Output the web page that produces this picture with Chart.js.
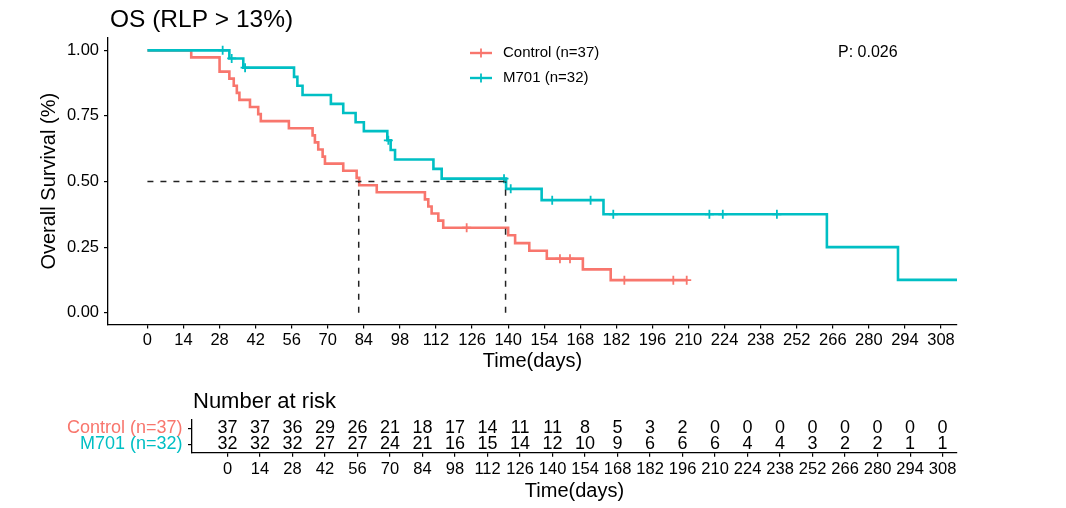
<!DOCTYPE html>
<html><head><meta charset="utf-8">
<script src="https://cdn.jsdelivr.net/npm/chart.js@4.4.1/dist/chart.umd.min.js"></script>
<style>
html,body{margin:0;padding:0;background:#fff;}
#wrap{position:relative;width:1066px;height:508px;overflow:hidden;background:#fff;}
canvas{position:absolute;left:0;}
#main{top:0;}
#risk{top:385px;}
</style></head><body>
<div id="wrap"><canvas id="main" width="1066" height="385"></canvas><canvas id="risk" width="1066" height="123"></canvas></div>
<script>
// ---------- data ----------
const chartTitle = 'OS (RLP > 13%)';
const riskTitle = 'Number at risk';
const xTitle = 'Time(days)';
const yTitle = 'Overall Survival (%)';
const groupNames = ['Control (n=37)', 'M701 (n=32)'];
const groupColors = ['#F8766D', '#00BFC4'];
const pValueLabel = 'P: 0.026';
const xTicks = [0,14,28,42,56,70,84,98,112,126,140,154,168,182,196,210,224,238,252,266,280,294,308];
const yTicks = [0, 0.25, 0.5, 0.75, 1];

const controlTime = [0,17,28,31.8,33.5,34.7,35.7,39.8,43,44,54.9,64.1,65,66.3,68,68.9,76,81.2,82.2,89,107.7,109,110.3,112.9,114.8,140,142.7,148.2,155,169,179.8,209.5];
const controlSurv = [1,0.973,0.919,0.892,0.865,0.838,0.811,0.784,0.757,0.730,0.703,0.676,0.649,0.622,0.595,0.568,0.541,0.514,0.486,0.459,0.432,0.405,0.378,0.351,0.324,0.295,0.265,0.236,0.206,0.165,0.124,0.124];
const controlCensorTime = [123.9,160.1,164,185.1,204.1,209.3];
const controlCensorSurv = [0.324,0.206,0.206,0.124,0.124,0.124];

const m701Time = [0,31.8,37.2,56.9,58.2,60.2,71.2,76,80.8,84,93.1,94.4,96.1,111,114.2,139.2,153,177,263.7,291.3,314.5];
const m701Surv = [1,0.969,0.934,0.899,0.865,0.830,0.796,0.761,0.726,0.692,0.657,0.620,0.584,0.548,0.511,0.472,0.429,0.375,0.250,0.125,0.125];
const m701CensorTime = [29.2,32.7,37.9,93.5,138.4,141,157.1,172,180.8,218.1,223.3,244.3];
const m701CensorSurv = [1,0.969,0.934,0.657,0.511,0.472,0.429,0.429,0.375,0.375,0.375,0.375];

const medianTimes = [82, 139];
const medianLevel = 0.5;

const riskTimes = xTicks;
const controlRisk = [37,37,36,29,26,21,18,17,14,11,11,8,5,3,2,0,0,0,0,0,0,0,0];
const m701Risk = [32,32,32,27,27,24,21,16,15,14,12,10,9,6,6,6,4,4,3,2,2,1,1];

// ---------- setup ----------
const FONT = "'Liberation Sans', Arial, Helvetica, sans-serif";
Chart.defaults.font.family = FONT;
Chart.defaults.color = '#000';
const X_MIN = -15.3, X_MAX = 314.2;
const pts = (t, s) => t.map((v, i) => ({x: v, y: s[i]}));

const dashStyle = {borderColor: '#222', borderWidth: 1.5, borderDash: [6, 7], pointRadius: 0, fill: false, showLine: true};

const mainAnnot = {
  id: 'mainAnnot',
  afterDraw(chart) {
    const ctx = chart.ctx;
    ctx.save();
    ctx.fillStyle = '#000';
    ctx.textBaseline = 'alphabetic';
    ctx.textAlign = 'left';
    ctx.font = '24.5px ' + FONT;
    ctx.fillText(chartTitle, 110, 27);
    // legend
    ctx.font = '15px ' + FONT;
    ctx.textBaseline = 'middle';
    groupNames.forEach((name, i) => {
      const y = 53 + i * 25;
      ctx.strokeStyle = groupColors[i];
      ctx.lineWidth = 2.4;
      ctx.beginPath(); ctx.moveTo(470, y); ctx.lineTo(492, y); ctx.stroke();
      ctx.lineWidth = 1.8;
      ctx.beginPath(); ctx.moveTo(481, y - 4.5); ctx.lineTo(481, y + 4.5); ctx.stroke();
      ctx.fillStyle = '#000';
      ctx.fillText(name, 503, y);
    });
    ctx.font = '16px ' + FONT;
    ctx.fillText(pValueLabel, 838, 53);
    ctx.restore();
  }
};

const axisCommon = {
  grid: {display: true, drawOnChartArea: false, drawTicks: true, tickLength: 4, color: '#000', lineWidth: 1.2},
  border: {display: true, color: '#000', width: 1.3},
};

new Chart(document.getElementById('main'), {
  type: 'line',
  data: {
    datasets: [
      Object.assign({data: [{x: 0, y: medianLevel}, {x: medianTimes[1], y: medianLevel}]}, dashStyle),
      Object.assign({data: [{x: medianTimes[0], y: 0}, {x: medianTimes[0], y: medianLevel}]}, dashStyle),
      Object.assign({data: [{x: medianTimes[1], y: 0}, {x: medianTimes[1], y: medianLevel}]}, dashStyle),
      {label: groupNames[1] + ' censored', data: pts(m701CensorTime, m701CensorSurv), showLine: false,
       pointStyle: 'cross', pointRadius: 4.5, pointBorderWidth: 1.8, pointBorderColor: groupColors[1], pointBackgroundColor: groupColors[1]},
      {label: groupNames[1], data: pts(m701Time, m701Surv), stepped: true, borderColor: groupColors[1], borderWidth: 2.6, pointRadius: 0, fill: false},
      {label: groupNames[0] + ' censored', data: pts(controlCensorTime, controlCensorSurv), showLine: false,
       pointStyle: 'cross', pointRadius: 4.5, pointBorderWidth: 1.8, pointBorderColor: groupColors[0], pointBackgroundColor: groupColors[0]},
      {label: groupNames[0], data: pts(controlTime, controlSurv), stepped: true, borderColor: groupColors[0], borderWidth: 2.6, pointRadius: 0, fill: false},
    ]
  },
  options: {
    responsive: false, animation: false, devicePixelRatio: 1,
    events: [],
    layout: {padding: {top: 38, left: 0, right: 109, bottom: 0}},
    plugins: {legend: {display: false}, tooltip: {enabled: false}, title: {display: false}},
    scales: {
      x: Object.assign({}, axisCommon, {
        type: 'linear', min: X_MIN, max: X_MAX,
        afterBuildTicks: (s) => { s.ticks = xTicks.map(v => ({value: v})); },
        afterFit: (s) => { s.height = 60.5; },
        ticks: {autoSkip: false, maxRotation: 0, padding: 2.5, font: {size: 16.5}, color: '#000', callback: (v) => String(v)},
        title: {display: true, text: xTitle, font: {size: 20, lineHeight: 1.2}, color: '#000', padding: {top: 0, bottom: 11.5}}
      }),
      y: Object.assign({}, axisCommon, {
        type: 'linear', min: -0.045, max: 1.047,
        afterBuildTicks: (s) => { s.ticks = yTicks.map(v => ({value: v})); },
        afterFit: (s) => { s.width = 108; },
        ticks: {padding: 5, font: {size: 16.5}, color: '#000', callback: (v) => Number(v).toFixed(2)},
        title: {display: true, text: yTitle, font: {size: 20, lineHeight: 1.2}, color: '#000', padding: {top: 37, bottom: 0}}
      })
    }
  },
  plugins: [mainAnnot]
});

// ---------- risk table ----------
const riskAnnot = {
  id: 'riskAnnot',
  afterDatasetsDraw(chart) {
    const ctx = chart.ctx;
    ctx.save();
    ctx.fillStyle = '#000';
    ctx.font = '18px ' + FONT;
    ctx.textAlign = 'center';
    ctx.textBaseline = 'middle';
    chart.data.datasets.forEach((ds, di) => {
      const meta = chart.getDatasetMeta(di);
      meta.data.forEach((el, i) => {
        ctx.fillText(String(ds.data[i].n), el.x, el.y);
      });
    });
    ctx.textAlign = 'left';
    ctx.textBaseline = 'alphabetic';
    ctx.font = '22px ' + FONT;
    ctx.fillText(riskTitle, chart.chartArea.left + 1, 22.5);
    ctx.restore();
  }
};

new Chart(document.getElementById('risk'), {
  type: 'line',
  data: {
    datasets: [
      {label: groupNames[0], data: riskTimes.map((t, i) => ({x: t, y: 1, n: controlRisk[i]})), showLine: false, pointRadius: 0},
      {label: groupNames[1], data: riskTimes.map((t, i) => ({x: t, y: 2, n: m701Risk[i]})), showLine: false, pointRadius: 0},
    ]
  },
  options: {
    responsive: false, animation: false, devicePixelRatio: 1,
    events: [],
    layout: {padding: {top: 35, left: 0, right: 109, bottom: 0}},
    plugins: {legend: {display: false}, tooltip: {enabled: false}, title: {display: false}},
    scales: {
      x: Object.assign({}, axisCommon, {
        type: 'linear', min: X_MIN, max: X_MAX,
        afterBuildTicks: (s) => { s.ticks = riskTimes.map(v => ({value: v})); },
        afterFit: (s) => { s.height = 55.3; },
        ticks: {autoSkip: false, maxRotation: 0, padding: 3, font: {size: 16.5}, color: '#000', callback: (v) => String(v)},
        title: {display: true, text: xTitle, font: {size: 20, lineHeight: 1.2}, color: '#000', padding: {top: 0, bottom: 5}}
      }),
      y: Object.assign({}, axisCommon, {
        type: 'linear', min: 0.5, max: 2.5, reverse: true,
        afterBuildTicks: (s) => { s.ticks = [1, 2].map(v => ({value: v})); },
        afterFit: (s) => { s.width = 192; },
        ticks: {padding: 5.5, font: {size: 18}, color: (c) => groupColors[(c.tick && c.tick.value === 2) ? 1 : 0],
                callback: (v) => groupNames[Math.round(v) - 1]},
        title: {display: false}
      })
    }
  },
  plugins: [riskAnnot]
});
</script>
</body></html>
